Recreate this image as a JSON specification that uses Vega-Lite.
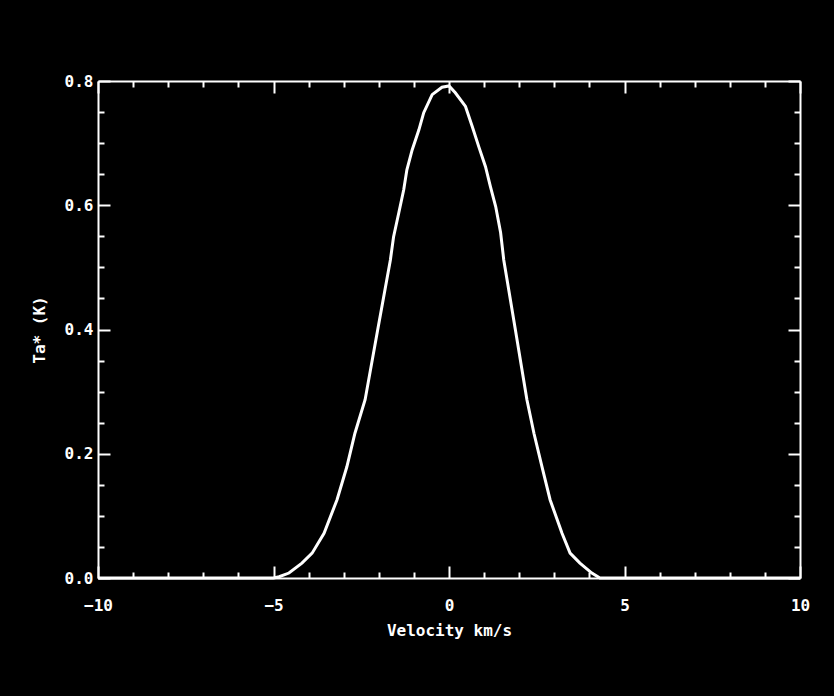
{
  "$schema": "https://vega.github.io/schema/vega-lite/v6.json",
  "autosize": "none",
  "padding": {"left": 98, "top": 81, "right": 34, "bottom": 118},
  "width": 702,
  "height": 497,
  "background": "#000000",
  "config": {
    "view": {"stroke": null},
    "axis": {
      "domainColor": "#ffffff",
      "domainWidth": 2,
      "tickColor": "#ffffff",
      "tickWidth": 2,
      "labelColor": "#ffffff",
      "labelFont": "DejaVu Sans Mono",
      "labelFontSize": 16,
      "labelFontWeight": "bold",
      "titleColor": "#ffffff",
      "titleFont": "DejaVu Sans Mono",
      "titleFontSize": 16,
      "titleFontWeight": "bold",
      "grid": false
    }
  },
  "data": {
    "values": [
      {"v": -10, "t": 0}, {"v": -5.0, "t": 0}, {"v": -4.84, "t": 0.002},
      {"v": -4.56, "t": 0.008}, {"v": -4.19, "t": 0.024}, {"v": -3.9, "t": 0.04},
      {"v": -3.56, "t": 0.072}, {"v": -3.19, "t": 0.126}, {"v": -2.91, "t": 0.179},
      {"v": -2.68, "t": 0.233}, {"v": -2.39, "t": 0.287}, {"v": -2.03, "t": 0.4},
      {"v": -1.67, "t": 0.512}, {"v": -1.58, "t": 0.549}, {"v": -1.43, "t": 0.588},
      {"v": -1.29, "t": 0.625}, {"v": -1.2, "t": 0.657}, {"v": -1.05, "t": 0.689},
      {"v": -0.86, "t": 0.721}, {"v": -0.72, "t": 0.749}, {"v": -0.48, "t": 0.778},
      {"v": -0.2, "t": 0.79}, {"v": 0.0, "t": 0.792}, {"v": 0.18, "t": 0.781},
      {"v": 0.47, "t": 0.759}, {"v": 0.66, "t": 0.727}, {"v": 0.85, "t": 0.694},
      {"v": 1.04, "t": 0.662}, {"v": 1.18, "t": 0.63}, {"v": 1.33, "t": 0.598},
      {"v": 1.47, "t": 0.556}, {"v": 1.56, "t": 0.512}, {"v": 1.89, "t": 0.4},
      {"v": 2.22, "t": 0.287}, {"v": 2.42, "t": 0.233}, {"v": 2.65, "t": 0.179},
      {"v": 2.88, "t": 0.126}, {"v": 3.22, "t": 0.072}, {"v": 3.45, "t": 0.04},
      {"v": 3.73, "t": 0.024}, {"v": 4.07, "t": 0.008}, {"v": 4.3, "t": 0.0},
      {"v": 10, "t": 0}
    ]
  },
  "layer": [
    {
      "mark": {"type": "line", "color": "#ffffff", "strokeWidth": 3},
      "encoding": {
        "x": {
          "field": "v", "type": "quantitative",
          "scale": {"domain": [-10, 10], "nice": false, "zero": false},
          "axis": {
            "orient": "bottom",
            "title": "Velocity km/s",
            "values": [-10,-9,-8,-7,-6,-5,-4,-3,-2,-1,0,1,2,3,4,5,6,7,8,9,10],
            "tickSize": {"condition": {"test": "datum.value % 5 === 0", "value": -12}, "value": -6},
            "labelExpr": "datum.value % 5 === 0 ? datum.label : ''",
            "labelPadding": 31,
            "labelFlush": false,
            "titlePadding": 9
          }
        },
        "y": {
          "field": "t", "type": "quantitative",
          "scale": {"domain": [0, 0.8], "nice": false},
          "axis": {
            "orient": "left",
            "title": "Ta* (K)",
            "values": [0,0.05,0.1,0.15,0.2,0.25,0.3,0.35,0.4,0.45,0.5,0.55,0.6,0.65,0.7,0.75,0.8],
            "tickSize": {"condition": {"test": "abs(datum.value*5 - round(datum.value*5)) < 0.000001", "value": -12}, "value": -6},
            "labelExpr": "abs(datum.value*5 - round(datum.value*5)) < 0.000001 ? format(datum.value, '.1f') : ''",
            "labelPadding": 17,
            "labelFlush": false,
            "titlePadding": 17
          }
        }
      }
    },
    {
      "mark": {"type": "line", "strokeOpacity": 0},
      "encoding": {
        "x": {
          "field": "v", "type": "quantitative",
          "axis": {
            "orient": "top",
            "title": null,
            "labels": false,
            "values": [-10,-9,-8,-7,-6,-5,-4,-3,-2,-1,0,1,2,3,4,5,6,7,8,9,10],
            "tickSize": {"condition": {"test": "datum.value % 5 === 0", "value": -12}, "value": -6}
          }
        },
        "y": {
          "field": "t", "type": "quantitative",
          "axis": {
            "orient": "right",
            "title": null,
            "labels": false,
            "values": [0,0.05,0.1,0.15,0.2,0.25,0.3,0.35,0.4,0.45,0.5,0.55,0.6,0.65,0.7,0.75,0.8],
            "tickSize": {"condition": {"test": "abs(datum.value*5 - round(datum.value*5)) < 0.000001", "value": -12}, "value": -6}
          }
        }
      }
    }
  ],
  "resolve": {"axis": {"x": "independent", "y": "independent"}}
}
